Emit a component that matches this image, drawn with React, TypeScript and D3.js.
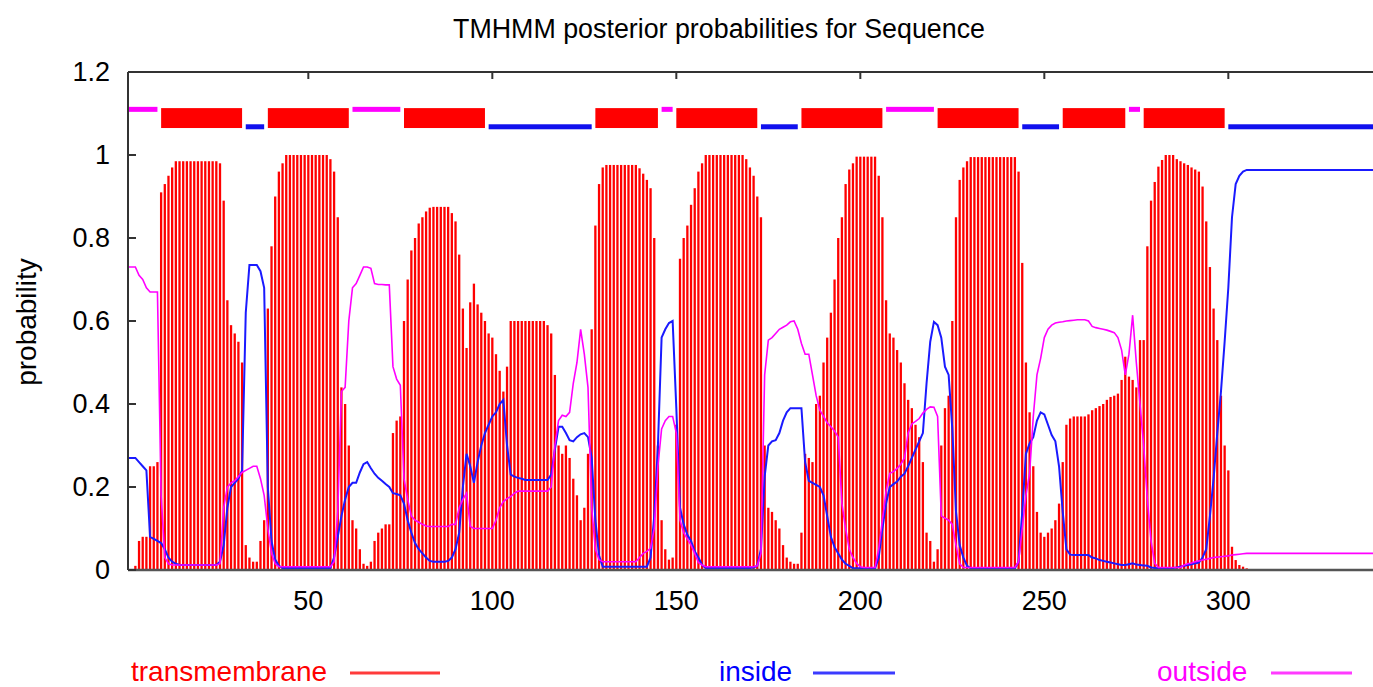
import React, { useRef, useEffect } from "react";
import * as d3 from "d3";

// posterior probabilities per residue (residue 1 first)
const tmProb = [
  0, 0, 0.01, 0.07, 0.08, 0.08, 0.25, 0.25, 0.26, 0.91,
  0.93, 0.95, 0.97, 0.985, 0.985, 0.985, 0.985, 0.985, 0.985, 0.985,
  0.985, 0.985, 0.985, 0.985, 0.985, 0.98, 0.89, 0.65, 0.59, 0.57,
  0.55, 0.5, 0.06, 0.03, 0.02, 0.02, 0.07, 0.12, 0.63, 0.78,
  0.9, 0.96, 0.98, 1, 1, 1, 1, 1, 1, 1,
  1, 1, 1, 1, 1, 0.99, 0.96, 0.85, 0.44, 0.4,
  0.3, 0.12, 0.1, 0.05, 0.015, 0.01, 0.02, 0.07, 0.09, 0.1,
  0.11, 0.11, 0.33, 0.36, 0.37, 0.6, 0.7, 0.77, 0.8, 0.835,
  0.85, 0.864, 0.873, 0.875, 0.875, 0.875, 0.875, 0.875, 0.86, 0.84,
  0.76, 0.63, 0.535, 0.645, 0.69, 0.64, 0.62, 0.6, 0.57, 0.56,
  0.52, 0.48, 0.43, 0.49, 0.6, 0.6, 0.6, 0.6, 0.6, 0.6,
  0.6, 0.6, 0.6, 0.6, 0.59, 0.57, 0.47, 0.3, 0.28, 0.3,
  0.27, 0.22, 0.18, 0.12, 0.15, 0.28, 0.58, 0.83, 0.93, 0.97,
  0.976, 0.976, 0.976, 0.976, 0.976, 0.976, 0.976, 0.976, 0.976, 0.968,
  0.955, 0.94, 0.92, 0.8, 0.3, 0.12, 0.05, 0.025, 0.03, 0.35,
  0.75, 0.8, 0.83, 0.88, 0.92, 0.96, 0.98, 1, 1, 1,
  1, 1, 1, 1, 1, 1, 1, 1, 0.99, 0.97,
  0.95, 0.9, 0.85, 0.3, 0.15, 0.14, 0.12, 0.1, 0.06, 0.03,
  0.02, 0.015, 0.015, 0.09, 0.28, 0.27, 0.26, 0.4, 0.42, 0.5,
  0.56, 0.62, 0.7, 0.8, 0.85, 0.93, 0.965, 0.98, 0.996, 0.996,
  0.996, 0.996, 0.996, 0.996, 0.95, 0.85, 0.65, 0.57, 0.56, 0.53,
  0.5, 0.45, 0.41, 0.39, 0.35, 0.32, 0.26, 0.09, 0.07, 0.02,
  0.05, 0.3, 0.39, 0.42, 0.6, 0.85, 0.94, 0.97, 0.985, 0.995,
  0.995, 0.995, 0.995, 0.995, 0.995, 0.995, 0.995, 0.995, 0.995, 0.995,
  0.995, 0.995, 0.96, 0.74, 0.5, 0.38, 0.25, 0.14, 0.09, 0.08,
  0.09, 0.1, 0.12, 0.16, 0.26, 0.35, 0.365, 0.37, 0.37, 0.37,
  0.37, 0.375, 0.385, 0.39, 0.395, 0.4, 0.41, 0.417, 0.42, 0.425,
  0.458, 0.514, 0.466, 0.458, 0.44, 0.554, 0.554, 0.78, 0.89, 0.935,
  0.972, 0.988, 1, 1, 1, 0.99, 0.985, 0.98, 0.976, 0.97,
  0.965, 0.96, 0.924, 0.84, 0.73, 0.63, 0.554, 0.42, 0.3, 0.24,
  0.056, 0.024, 0.012, 0.008, 0.004,
];

const insideProb = [
  0.27, 0.27, 0.27, 0.26, 0.25, 0.24, 0.08, 0.075, 0.07, 0.065,
  0.05, 0.03, 0.02, 0.015, 0.012, 0.012, 0.012, 0.012, 0.012, 0.012,
  0.012, 0.012, 0.012, 0.012, 0.012, 0.02, 0.06, 0.15, 0.2, 0.21,
  0.22, 0.24, 0.62, 0.735, 0.735, 0.735, 0.72, 0.68, 0.2, 0.07,
  0.025, 0.01, 0.005, 0.005, 0.005, 0.005, 0.005, 0.005, 0.005, 0.005,
  0.005, 0.005, 0.005, 0.005, 0.005, 0.005, 0.03, 0.08, 0.13, 0.17,
  0.2, 0.21, 0.21, 0.235, 0.255, 0.26, 0.245, 0.232, 0.222, 0.215,
  0.207, 0.2, 0.185, 0.183, 0.18, 0.16, 0.12, 0.09, 0.065, 0.05,
  0.04, 0.03, 0.022, 0.02, 0.02, 0.02, 0.02, 0.022, 0.03, 0.05,
  0.09, 0.2, 0.28, 0.25, 0.21, 0.26, 0.3, 0.33, 0.35, 0.37,
  0.38, 0.4, 0.41, 0.3, 0.23, 0.225, 0.222, 0.22, 0.217, 0.217,
  0.217, 0.217, 0.217, 0.217, 0.217, 0.23, 0.29, 0.345, 0.345, 0.33,
  0.313, 0.31, 0.32, 0.327, 0.33, 0.32, 0.27, 0.12, 0.035, 0.008,
  0.008, 0.008, 0.008, 0.008, 0.008, 0.008, 0.008, 0.008, 0.008, 0.008,
  0.008, 0.008, 0.03, 0.13, 0.3, 0.56, 0.58, 0.595, 0.6, 0.39,
  0.15, 0.11, 0.085, 0.07, 0.045, 0.03, 0.012, 0.005, 0.005, 0.005,
  0.005, 0.005, 0.005, 0.005, 0.005, 0.005, 0.005, 0.005, 0.005, 0.005,
  0.006, 0.01, 0.05, 0.225, 0.3, 0.31, 0.313, 0.33, 0.36, 0.38,
  0.39, 0.39, 0.39, 0.39, 0.26, 0.215, 0.21, 0.205, 0.2, 0.18,
  0.13, 0.08, 0.055, 0.04, 0.025, 0.015, 0.01, 0.004, 0.004, 0.004,
  0.004, 0.004, 0.004, 0.004, 0.03, 0.1, 0.16, 0.2, 0.207, 0.213,
  0.225, 0.232, 0.25, 0.27, 0.29, 0.31, 0.33, 0.45, 0.55, 0.598,
  0.59, 0.56, 0.49, 0.47, 0.34, 0.14, 0.06, 0.03, 0.01, 0.004,
  0.004, 0.004, 0.004, 0.004, 0.004, 0.004, 0.004, 0.004, 0.004, 0.004,
  0.004, 0.004, 0.02, 0.14, 0.28, 0.305, 0.32, 0.36, 0.38, 0.375,
  0.35, 0.325, 0.31, 0.25, 0.14, 0.05, 0.037, 0.036, 0.036, 0.036,
  0.036, 0.036, 0.03, 0.028, 0.024, 0.022, 0.02, 0.018, 0.016, 0.014,
  0.012, 0.012, 0.014, 0.016, 0.013, 0.012, 0.011, 0.01, 0.006, 0.005,
  0.004, 0.004, 0.004, 0.004, 0.005, 0.006, 0.008, 0.01, 0.012, 0.014,
  0.016, 0.018, 0.03, 0.05, 0.13, 0.22, 0.33, 0.43, 0.55, 0.68,
  0.85, 0.93, 0.95, 0.96, 0.964, 0.964, 0.964, 0.964, 0.964, 0.964,
  0.964, 0.964, 0.964, 0.964, 0.964, 0.964, 0.964, 0.964, 0.964, 0.964,
  0.964, 0.964, 0.964, 0.964, 0.964, 0.964, 0.964, 0.964, 0.964, 0.964,
  0.964, 0.964, 0.964, 0.964, 0.964, 0.964, 0.964, 0.964, 0.964, 0.964,
  0.964,
];

const outsideProb = [
  0.73, 0.73, 0.73, 0.71, 0.7, 0.68, 0.67, 0.67, 0.67, 0.18,
  0.03, 0.015, 0.012, 0.012, 0.012, 0.012, 0.012, 0.012, 0.012, 0.012,
  0.012, 0.012, 0.012, 0.012, 0.012, 0.015, 0.15, 0.2, 0.21, 0.215,
  0.225, 0.235, 0.24, 0.245, 0.25, 0.25, 0.22, 0.18, 0.1, 0.04,
  0.015, 0.008, 0.008, 0.008, 0.008, 0.008, 0.008, 0.008, 0.008, 0.008,
  0.008, 0.008, 0.008, 0.008, 0.008, 0.008, 0.02, 0.14, 0.43, 0.44,
  0.6, 0.68, 0.69, 0.71, 0.73, 0.73, 0.727, 0.69, 0.688, 0.688,
  0.687, 0.687, 0.49, 0.46, 0.445, 0.22, 0.17, 0.13, 0.12, 0.115,
  0.11, 0.106, 0.105, 0.105, 0.105, 0.105, 0.105, 0.105, 0.11, 0.11,
  0.15, 0.17, 0.185, 0.105, 0.1, 0.1, 0.1, 0.1, 0.1, 0.1,
  0.12, 0.15, 0.165, 0.172, 0.177, 0.185, 0.19, 0.19, 0.19, 0.19,
  0.19, 0.19, 0.19, 0.19, 0.19, 0.2, 0.3, 0.36, 0.373, 0.37,
  0.38, 0.45, 0.5, 0.58, 0.52, 0.44, 0.15, 0.05, 0.025, 0.02,
  0.02, 0.02, 0.02, 0.02, 0.02, 0.02, 0.02, 0.02, 0.02, 0.03,
  0.04, 0.045, 0.052, 0.1, 0.25, 0.34, 0.36, 0.37, 0.37, 0.33,
  0.12, 0.09, 0.075, 0.06, 0.04, 0.018, 0.012, 0.008, 0.008, 0.008,
  0.008, 0.008, 0.008, 0.008, 0.008, 0.008, 0.008, 0.008, 0.008, 0.008,
  0.008, 0.01, 0.04, 0.47, 0.554, 0.56, 0.57, 0.58, 0.585, 0.59,
  0.598, 0.6, 0.58, 0.546, 0.52, 0.52, 0.47, 0.42, 0.385, 0.37,
  0.355, 0.345, 0.335, 0.32, 0.16, 0.1, 0.05, 0.03, 0.016, 0.008,
  0.006, 0.006, 0.006, 0.006, 0.05, 0.12, 0.19, 0.233, 0.237, 0.245,
  0.255, 0.27, 0.33, 0.352, 0.358, 0.365, 0.378, 0.387, 0.393, 0.392,
  0.37, 0.13, 0.125, 0.12, 0.11, 0.06, 0.015, 0.006, 0.006, 0.006,
  0.006, 0.006, 0.006, 0.006, 0.006, 0.006, 0.006, 0.006, 0.006, 0.006,
  0.006, 0.006, 0.02, 0.1, 0.18, 0.233, 0.37, 0.47, 0.51, 0.56,
  0.58, 0.59, 0.595, 0.597, 0.598, 0.6, 0.601, 0.602, 0.603, 0.603,
  0.603, 0.6, 0.587, 0.584, 0.582, 0.58, 0.578, 0.575, 0.572, 0.56,
  0.53, 0.47, 0.52, 0.614, 0.5, 0.4, 0.3, 0.17, 0.07, 0.016,
  0.006, 0.006, 0.006, 0.006, 0.006, 0.006, 0.006, 0.012, 0.015, 0.017,
  0.02, 0.022, 0.024, 0.026, 0.028, 0.03, 0.031, 0.032, 0.033, 0.034,
  0.036, 0.037, 0.038, 0.039, 0.04, 0.04, 0.04, 0.04, 0.04, 0.04,
  0.04, 0.04, 0.04, 0.04, 0.04, 0.04, 0.04, 0.04, 0.04, 0.04,
  0.04, 0.04, 0.04, 0.04, 0.04, 0.04, 0.04, 0.04, 0.04, 0.04,
  0.04, 0.04, 0.04, 0.04, 0.04, 0.04, 0.04, 0.04, 0.04, 0.04,
  0.04,
];

// predicted topology segments [first residue, last residue]
const outsideSegs = [[1, 9], [62, 75], [146, 149], [207, 220], [273, 276]];
const tmSegs = [[10, 32], [39, 61], [76, 98], [128, 145], [150, 172], [184, 206], [221, 243], [255, 272], [277, 299]];
const insideSegs = [[33, 38], [99, 127], [173, 183], [244, 254], [300, 341]];

const xTicks = [50, 100, 150, 200, 250, 300];
const yTicks = [0, 0.2, 0.4, 0.6, 0.8, 1, 1.2];

const FONT = "'Liberation Sans', Arial, sans-serif";

const App = () => {
  const svgRef = useRef<SVGSVGElement>(null);

  useEffect(() => {
    const width = 1373;
    const height = 687;
    const svg = d3.select(svgRef.current).attr("width", width).attr("height", height);
    svg.selectAll("*").remove();

    const left = 128;
    const x = d3.scaleLinear().domain([1, 341]).range([left, left + 340 * 3.68]);
    const y = d3.scaleLinear().domain([0, 1.2]).range([570, 72]);

    // title
    svg
      .append("text")
      .attr("x", 453)
      .attr("y", 38)
      .attr("font-family", FONT)
      .attr("font-size", 27)
      .attr("textLength", 532)
      .attr("lengthAdjust", "spacingAndGlyphs")
      .text("TMHMM posterior probabilities for Sequence");

    // transmembrane impulses
    svg
      .append("g")
      .selectAll("rect")
      .data(tmProb)
      .join("rect")
      .attr("x", (d, i) => x(i + 1) - 1.15)
      .attr("width", 2.3)
      .attr("y", (d) => y(d))
      .attr("height", (d) => y(0) - y(d))
      .attr("fill", "#ff0000");

    const line = d3
      .line<number>()
      .x((d, i) => x(i + 1))
      .y((d) => y(d));

    svg
      .append("path")
      .attr("d", line(insideProb))
      .attr("fill", "none")
      .attr("stroke", "#1a1aff")
      .attr("stroke-width", 2);

    svg
      .append("path")
      .attr("d", line(outsideProb))
      .attr("fill", "none")
      .attr("stroke", "#ff00ff")
      .attr("stroke-width", 1.6);

    // topology strip
    const topo = svg.append("g");
    topo
      .selectAll(".out")
      .data(outsideSegs)
      .join("rect")
      .attr("x", (d) => x(d[0]))
      .attr("width", (d) => x(d[1]) - x(d[0]))
      .attr("y", y(1.11) - 2.5)
      .attr("height", 5)
      .attr("fill", "#ff00ff");
    topo
      .selectAll(".tm")
      .data(tmSegs)
      .join("rect")
      .attr("x", (d) => x(d[0]))
      .attr("width", (d) => x(d[1]) - x(d[0]))
      .attr("y", y(1.113))
      .attr("height", y(1.065) - y(1.113))
      .attr("fill", "#ff0000");
    topo
      .selectAll(".in")
      .data(insideSegs)
      .join("rect")
      .attr("x", (d) => x(d[0]))
      .attr("width", (d) => x(d[1]) - x(d[0]))
      .attr("y", y(1.068) - 2.5)
      .attr("height", 5)
      .attr("fill", "#1010ee");

    // frame
    const frame = svg.append("g").attr("stroke", "#333").attr("stroke-width", 2);
    frame.append("line").attr("x1", left).attr("x2", left).attr("y1", y(1.2)).attr("y2", y(0));
    frame.append("line").attr("x1", left).attr("x2", width).attr("y1", y(1.2)).attr("y2", y(1.2));
    frame.append("line").attr("x1", left).attr("x2", width).attr("y1", y(0)).attr("y2", y(0)).attr("stroke", "#555").attr("stroke-width", 2.5);
    frame
      .selectAll(".yt")
      .data(yTicks)
      .join("line")
      .attr("x1", left)
      .attr("x2", left + 8)
      .attr("y1", (d) => y(d))
      .attr("y2", (d) => y(d));
    frame
      .selectAll(".xt")
      .data(xTicks)
      .join("line")
      .attr("x1", (d) => x(d))
      .attr("x2", (d) => x(d))
      .attr("y1", y(1.2))
      .attr("y2", y(1.2) + 7);

    // tick labels
    svg
      .append("g")
      .selectAll("text")
      .data(yTicks)
      .join("text")
      .attr("x", 110)
      .attr("y", (d) => y(d) + 9)
      .attr("text-anchor", "end")
      .attr("font-family", FONT)
      .attr("font-size", 27)
      .text((d) => d3.format("~g")(d));

    svg
      .append("g")
      .selectAll("text")
      .data(xTicks)
      .join("text")
      .attr("x", (d) => x(d))
      .attr("y", 610)
      .attr("text-anchor", "middle")
      .attr("font-family", FONT)
      .attr("font-size", 27)
      .text((d) => d);

    svg
      .append("text")
      .attr("transform", "translate(36, 322) rotate(-90)")
      .attr("text-anchor", "middle")
      .attr("font-family", FONT)
      .attr("font-size", 28)
      .text("probability");

    // legend
    const legendItems = [
      { label: "transmembrane", color: "#ff0000", line: "#ff3b3b", tx: 131, lx: [350, 440] },
      { label: "inside", color: "#0000ff", line: "#3b3bff", tx: 719, lx: [813, 895] },
      { label: "outside", color: "#ff00ff", line: "#ff3bff", tx: 1157, lx: [1271, 1352] },
    ];
    const legend = svg.append("g");
    legendItems.forEach((it) => {
      legend
        .append("text")
        .attr("x", it.tx)
        .attr("y", 681)
        .attr("font-family", FONT)
        .attr("font-size", 28)
        .attr("fill", it.color)
        .text(it.label);
      legend
        .append("line")
        .attr("x1", it.lx[0])
        .attr("x2", it.lx[1])
        .attr("y1", 673)
        .attr("y2", 673)
        .attr("stroke", it.line)
        .attr("stroke-width", 3);
    });
  }, []);

  return (
    <div>
      <svg ref={svgRef} style={{ position: "absolute", left: 0, top: 0 }}></svg>
    </div>
  );
};

export default App;
